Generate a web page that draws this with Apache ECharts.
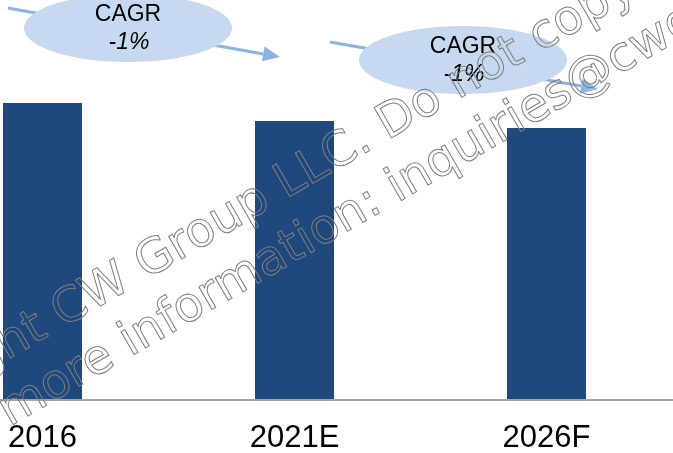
<!DOCTYPE html>
<html>
<head>
<meta charset="utf-8">
<style>
  html, body { margin: 0; padding: 0; background: #fff; }
  #chart { width: 673px; height: 453px; }
</style>
<script src="https://cdn.jsdelivr.net/npm/echarts@6/dist/echarts.min.js"></script>
</head>
<body>
<div id="chart"></div>
<script>
// market size by year (arbitrary units)
const years = ['2016', '2021E', '2026F'];
const values = [297, 279, 272];
const cagrTitle = 'CAGR';
const cagrValues = ['-1%', '-1%'];
const watermark = [
  'Copyright CW Group LLC. Do not copy',
  'For more information: inquiries@cwgroup.com',
];

const BAR = '#1f497d';
const BUBBLE = '#c6d9f1';
const ARROW = '#8db3e2';
const FONT = "'Liberation Sans', Arial, sans-serif";

const chart = echarts.init(document.getElementById('chart'), null, { renderer: 'canvas' });

// arrow: shaft + triangular head pointing at (x2, y2)
function arrow(x1, y1, x2, y2) {
  const a = Math.atan2(y2 - y1, x2 - x1), len = 17, half = 7.5;
  const bx = x2 - len * Math.cos(a), by = y2 - len * Math.sin(a);
  const nx = -Math.sin(a) * half, ny = Math.cos(a) * half;
  return [
    { type: 'line', z: 10, shape: { x1, y1, x2: bx, y2: by }, style: { stroke: ARROW, lineWidth: 3 } },
    { type: 'polygon', z: 10, shape: { points: [[x2, y2], [bx + nx, by + ny], [bx - nx, by - ny]] }, style: { fill: ARROW } },
  ];
}

function bubble(cx, cy, i) {
  return [
    { type: 'ellipse', z: 11, shape: { cx, cy, rx: 104, ry: 34 }, style: { fill: BUBBLE } },
    { type: 'text', z: 12, x: cx, y: cy - 13, style: { text: cagrTitle, font: `23px ${FONT}`, fill: '#000', align: 'center', verticalAlign: 'middle' } },
    { type: 'text', z: 12, x: cx + 1, y: cy + 15, style: { text: cagrValues[i], font: `italic 23px ${FONT}`, fill: '#000', align: 'center', verticalAlign: 'middle' } },
  ];
}

function stamp(text, x, y) {
  return { type: 'text', z: 20, x, y, rotation: Math.PI / 6,
    style: { text, font: "48px 'DejaVu Sans', sans-serif", fill: 'transparent', stroke: '#7f7f7f', lineWidth: 1, align: 'left', verticalAlign: 'middle' } };
}

chart.setOption({
  animation: false,
  // categories sit on the ticks so the first bar can hug the left edge
  grid: { left: 42.5, right: 126.5, top: 0, bottom: 53, outerBoundsMode: 'none' },
  xAxis: {
    type: 'category', data: years, boundaryGap: false,
    axisLine: { show: false },
    axisTick: { show: false },
    axisLabel: { color: '#000', fontFamily: FONT, fontSize: 31, margin: 23 },
  },
  yAxis: { type: 'value', min: 0, max: 400, show: false, splitLine: { show: false } },
  series: [{ type: 'bar', data: values, barWidth: 79, itemStyle: { color: BAR } }],
  graphic: [
    // baseline runs the full width of the picture
    { type: 'line', z: 5, shape: { x1: 0, y1: 400, x2: 673, y2: 400 }, style: { stroke: '#a6a6a6', lineWidth: 2 } },
    ...arrow(8, 8, 280, 57),
    ...arrow(330, 42, 598, 89),
    ...bubble(128, 28, 0),
    ...bubble(463, 60, 1),
    stamp(watermark[0], -160, 442),
    stamp(watermark[1], -75, 461),
  ],
});
</script>
</body>
</html>
